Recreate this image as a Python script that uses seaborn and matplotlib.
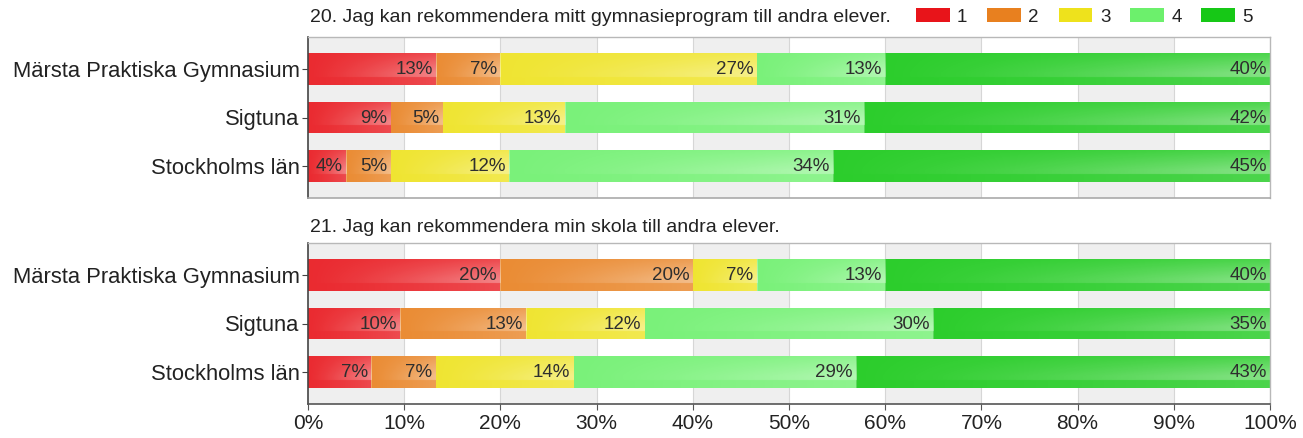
import numpy as np
import pandas as pd
import matplotlib
matplotlib.use("Agg")
import matplotlib.pyplot as plt
import matplotlib.patches as mpatches
import seaborn as sns

# ---------------- data ----------------
schools = ["Märsta Praktiska Gymnasium", "Sigtuna", "Stockholms län"]
levels = ["1", "2", "3", "4", "5"]

q20_title = "20. Jag kan rekommendera mitt gymnasieprogram till andra elever."
q20_marsta = [13.33, 6.67, 26.67, 13.33, 40.0]
q20_sigtuna = [8.6, 5.4, 12.7, 31.1, 42.2]
q20_sthlm = [4.0, 4.6, 12.3, 33.7, 45.4]

q21_title = "21. Jag kan rekommendera min skola till andra elever."
q21_marsta = [20.0, 20.0, 6.67, 13.33, 40.0]
q21_sigtuna = [9.6, 13.1, 12.3, 30.0, 35.0]
q21_sthlm = [6.6, 6.7, 14.3, 29.4, 43.0]

x_ticks = [0, 10, 20, 30, 40, 50, 60, 70, 80, 90, 100]
x_tick_labels = [f"{t}%" for t in x_ticks]

colors = ["#e8141a", "#e8801f", "#eee21c", "#6cf06c", "#16c816"]

# ---------------- style ----------------
sns.set_theme(style="white")
plt.rcParams["font.family"] = ["Liberation Sans", "DejaVu Sans"]
TEXT = "#222222"

fig = plt.figure(figsize=(13.03, 4.38), dpi=100)
W, H = 1303.0, 438.0
ax1 = fig.add_axes([308 / W, 1 - 198 / H, 962 / W, 161 / H])
ax2 = fig.add_axes([308 / W, 1 - 404 / H, 962 / W, 161 / H])


def draw_panel(ax, rows, title, show_x, title_gap):
    vals = np.array(rows, dtype=float)          # shape (3 schools, 5 levels)
    cum = np.cumsum(vals, axis=1)
    # background bands and grid
    for i, t in enumerate(x_ticks[:-1]):
        if i % 2 == 0:
            ax.axvspan(t, x_ticks[i + 1], color="#efefef", zorder=0, lw=0)
    for t in x_ticks[1:-1]:
        ax.axvline(t, color="#d6d6d6", lw=0.8, zorder=0.5)

    # stacked bars via seaborn (draw cumulative, largest first)
    for k in range(len(levels) - 1, -1, -1):
        df = pd.DataFrame({"school": schools, "value": cum[:, k]})
        sns.barplot(data=df, x="value", y="school", orient="h", color=colors[k],
                    saturation=1, width=0.64, ax=ax, zorder=2, linewidth=0,
                    order=schools)

    # glossy overlay + labels
    gy, gx = np.mgrid[0:1:40j, 0:1:80j]
    for i, s in enumerate(schools):
        for k in range(len(levels)):
            x0 = cum[i, k] - vals[i, k]
            x1 = cum[i, k]
            y0, y1 = i - 0.32, i + 0.32
            alpha = 0.10 + 0.38 * gx ** 1.3 * (0.35 + 0.65 * np.clip(gy * 1.6, 0, 1) * (gy < 0.75))
            alpha = np.clip(alpha, 0, 0.5)
            img = np.zeros((40, 80, 4))
            img[..., :3] = 1.0
            img[..., 3] = alpha
            ax.imshow(img, extent=(x0, x1, y1, y0), origin="upper", aspect="auto",
                      zorder=2.5, interpolation="bilinear")
            ax.text(x1 - 0.35, i + 0.02, f"{round(vals[i, k])}%", ha="right", va="center",
                    fontsize=13.5, color="#2e2e2e", zorder=3)

    ax.set_xlim(0, 100)
    ax.set_ylim(2.66, -0.66)
    ax.set_xlabel("")
    ax.set_ylabel("")
    ax.set_xticks(x_ticks)
    ax.tick_params(axis="y", left=True, length=4, width=0.8, color="#444444",
                   labelsize=15.8, labelcolor=TEXT, pad=2)
    if show_x:
        ax.set_xticklabels(x_tick_labels)
        ax.tick_params(axis="x", bottom=True, length=4, width=0.8, color="#555555",
                       labelsize=15, labelcolor=TEXT, pad=3)
    else:
        ax.tick_params(axis="x", bottom=False, labelbottom=False)
    for side in ["top", "right"]:
        ax.spines[side].set_color("#b8b8b8")
        ax.spines[side].set_linewidth(1.0)
    ax.spines["left"].set_color("#444444")
    ax.spines["left"].set_linewidth(1.2)
    ax.spines["bottom"].set_color("#555555" if show_x else "#aaaaaa")
    ax.spines["bottom"].set_linewidth(1.2)
    ax.text(0.002, 1.0 + title_gap / 161.0, title, transform=ax.transAxes, ha="left",
            va="center", fontsize=14, color=TEXT)


draw_panel(ax1, [q20_marsta, q20_sigtuna, q20_sthlm], q20_title, False, 19)
draw_panel(ax2, [q21_marsta, q21_sigtuna, q21_sthlm], q21_title, True, 15)

handles = [mpatches.Patch(facecolor=c, edgecolor="none") for c in colors]
fig.legend(handles, levels, loc="center right", bbox_to_anchor=(1253 / W, 1 - 17 / H),
           ncol=5, frameon=False, fontsize=13.5, handlelength=1.8, handleheight=0.7,
           handletextpad=0.4, columnspacing=1.05, labelcolor=TEXT,
           borderaxespad=0, borderpad=0)

fig.savefig("out.png", dpi=100, facecolor="white")
